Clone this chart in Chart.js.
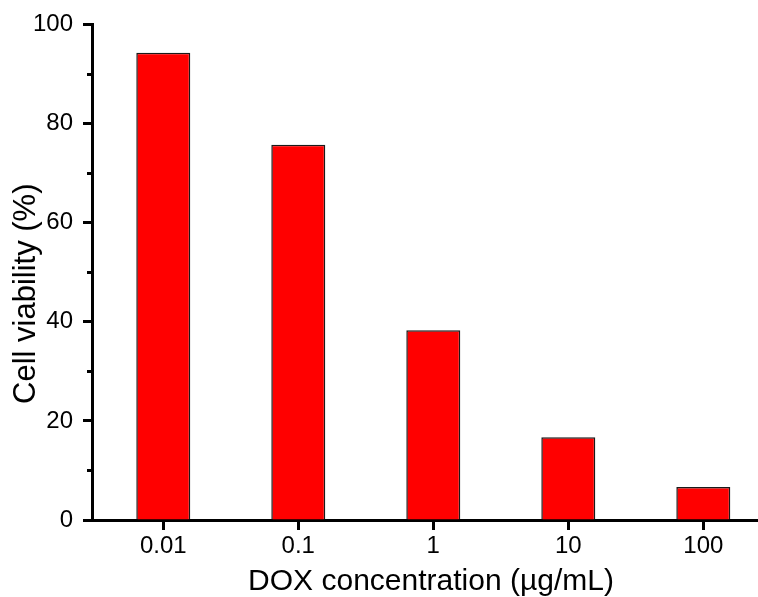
<!DOCTYPE html>
<html>
<head>
<meta charset="utf-8">
<script src="https://cdn.jsdelivr.net/npm/chart.js@4"></script>
<style>
html,body{margin:0;padding:0;overflow:hidden;background:#fff;}
#wrap{width:770px;height:597px;position:relative;}
</style>
</head>
<body>
<div id="wrap"><canvas id="c"></canvas></div>
<script>
const categories = ['0.01', '0.1', '1', '10', '100'];
const viability = [94.3, 75.7, 38.3, 16.7, 6.65];
const yTicks = [0, 20, 40, 60, 80, 100];
const yMinorTicks = [10, 30, 50, 70, 90];
const xTitle = 'DOX concentration (\u00b5g/mL)';
const yTitle = 'Cell viability (%)';

const FONT = "'Liberation Sans', Arial, sans-serif";

const minorTicks = {
  id: 'minorTicks',
  afterDraw(chart) {
    const y = chart.scales.y;
    const ctx = chart.ctx;
    ctx.save();
    ctx.strokeStyle = '#000';
    ctx.lineWidth = 3;
    yMinorTicks.forEach(v => {
      const p = Math.round(y.getPixelForValue(v)) + 0.5;
      ctx.beginPath();
      ctx.moveTo(y.right - 5, p);
      ctx.lineTo(y.right, p);
      ctx.stroke();
    });
    ctx.restore();
  }
};

new Chart(document.getElementById('c'), {
  type: 'bar',
  data: {
    datasets: [{
      data: viability.map((v, i) => ({ x: i, y: v })),
      backgroundColor: '#ff0000',
      borderColor: '#1a1a1a',
      borderWidth: 1.5,
      barPercentage: 0.4,
      categoryPercentage: 1.0
    }]
  },
  options: {
    responsive: true,
    maintainAspectRatio: false,
    animation: false,
    layout: { padding: { top: 24, right: 0, left: 0, bottom: 0 } },
    plugins: { legend: { display: false }, tooltip: { enabled: false } },
    scales: {
      x: {
        type: 'linear',
        offset: false,
        min: -0.528,
        max: 4.494,
        afterFit: s => { s.height = 77; },
        afterBuildTicks: s => { s.ticks = categories.map((c, i) => ({ value: i })); },
        grid: { offset: false, drawOnChartArea: false, drawTicks: true, tickLength: 10, tickWidth: 3, tickColor: '#000' },
        border: { display: true, color: '#000', width: 3 },
        ticks: {
          color: '#000',
          padding: 2,
          font: { family: FONT, size: 24 },
          callback: v => categories[v]
        },
        title: {
          display: true,
          text: xTitle,
          color: '#000',
          font: { family: FONT, size: 30, lineHeight: 1 },
          padding: { top: 0, bottom: 0 }
        }
      },
      y: {
        min: 0,
        max: 100,
        afterFit: s => { s.width = 92; },
        afterBuildTicks: s => { s.ticks = yTicks.map(v => ({ value: v })); },
        grid: { drawOnChartArea: false, drawTicks: true, tickLength: 9, tickWidth: 3, tickColor: '#000' },
        border: { display: true, color: '#000', width: 3 },
        ticks: {
          color: '#000',
          padding: 10,
          font: { family: FONT, size: 24 }
        },
        title: {
          display: true,
          text: yTitle + '     ',
          color: '#000',
          font: { family: FONT, size: 31, lineHeight: 1 },
          padding: { top: 11, bottom: 0 }
        }
      }
    }
  },
  plugins: [minorTicks]
});
</script>
</body>
</html>
